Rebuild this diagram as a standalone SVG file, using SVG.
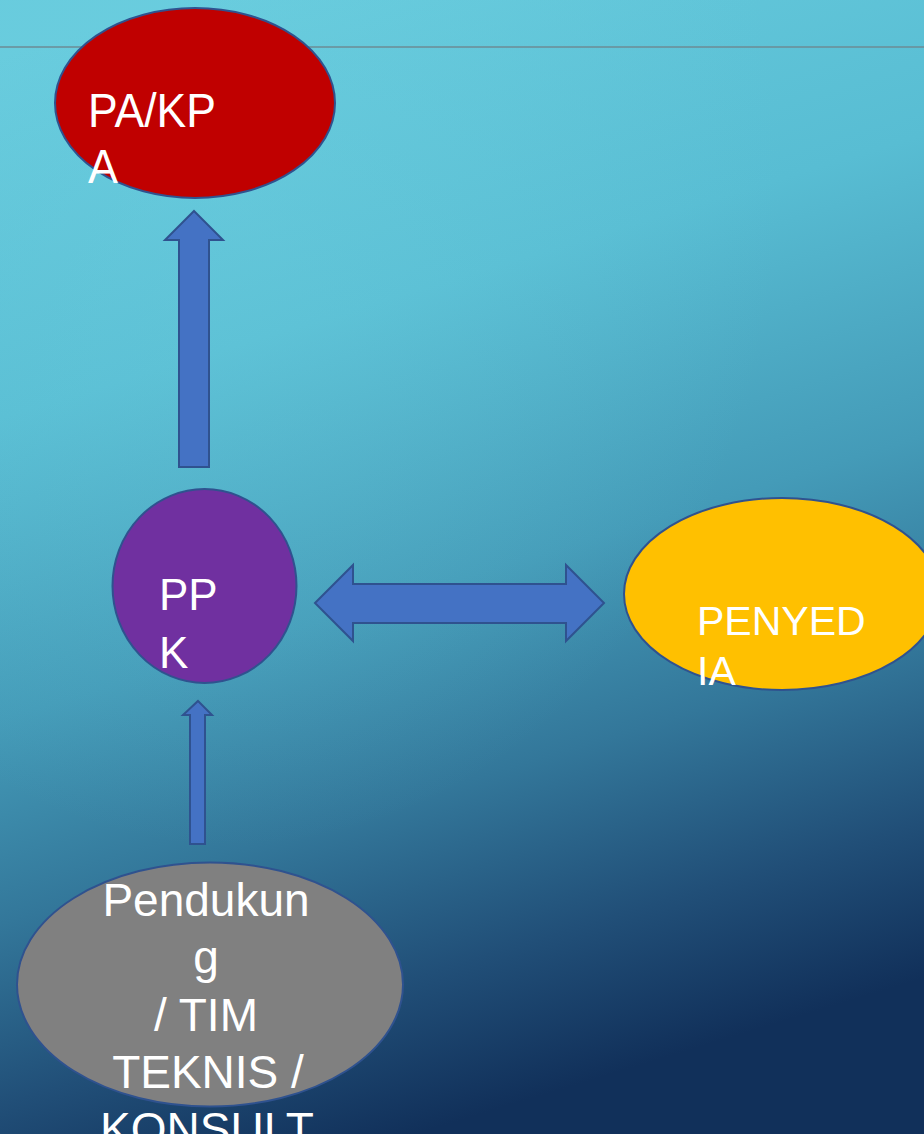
<svg xmlns="http://www.w3.org/2000/svg" width="924" height="1134" viewBox="0 0 924 1134">
<defs>
<linearGradient id="bg" x1="0.2" y1="0" x2="0.45" y2="1">
<stop offset="0" stop-color="#67cbdd"/>
<stop offset="0.3" stop-color="#58bdd3"/>
<stop offset="0.55" stop-color="#449bb8"/>
<stop offset="0.72" stop-color="#33779a"/>
<stop offset="0.87" stop-color="#214f78"/>
<stop offset="1" stop-color="#11305a"/>
</linearGradient>
<radialGradient id="glow" cx="0.25" cy="0.15" r="0.6">
<stop offset="0" stop-color="#6fd0e0" stop-opacity="0.35"/>
<stop offset="1" stop-color="#6fd0e0" stop-opacity="0"/>
</radialGradient>
<style>
.node{stroke:#2f528f;stroke-width:2}
.arrow{fill:#4472c4;stroke:#2f528f;stroke-width:2;stroke-linejoin:miter}
.lbl{font-family:"Liberation Sans",Arial,sans-serif;fill:#ffffff}
</style>
</defs>
<rect x="0" y="0" width="924" height="1134" fill="url(#bg)"/>
<rect x="0" y="0" width="924" height="1134" fill="url(#glow)"/>
<line x1="0" y1="47" x2="924" y2="47" stroke="#6c8b95" stroke-width="1.5"/>

<g id="connectors">
<polygon class="arrow" points="194,211 223,240 209,240 209,467 179,467 179,240 165,240"/>
<polygon class="arrow" points="315,603 353,565 353,584 566,584 566,565 604,603 566,641 566,623 353,623 353,641"/>
<polygon class="arrow" points="198,701 212,715 205,715 205,844 190,844 190,715 183,715"/>
</g>

<g id="pakpa">
<ellipse class="node" cx="195" cy="103" rx="140" ry="95" fill="#c00000"/>
<text class="lbl" font-size="49" x="88" y="127" textLength="128" lengthAdjust="spacingAndGlyphs">PA/KP</text>
<text class="lbl" font-size="49" x="88" y="183" textLength="30" lengthAdjust="spacingAndGlyphs">A</text>
</g>

<g id="ppk">
<ellipse class="node" cx="204.5" cy="586" rx="92" ry="97" fill="#7030a0"/>
<text class="lbl" font-size="44" x="159" y="610">PP</text>
<text class="lbl" font-size="44" x="159" y="668">K</text>
</g>

<g id="penyedia">
<ellipse class="node" cx="782" cy="594" rx="158" ry="96" fill="#ffc000"/>
<text class="lbl" font-size="41" x="697" y="635">PENYED</text>
<text class="lbl" font-size="41" x="697" y="685">IA</text>
</g>

<g id="pendukung">
<ellipse class="node" cx="210" cy="984.5" rx="193" ry="122" fill="#808080"/>
<g class="lbl" font-size="46" text-anchor="middle">
<text x="206" y="916">Pendukun</text>
<text x="206" y="973">g</text>
<text x="206" y="1031">/ TIM</text>
<text x="208" y="1088">TEKNIS /</text>
<text x="207" y="1145">KONSULT</text>
</g>
</g>
</svg>
